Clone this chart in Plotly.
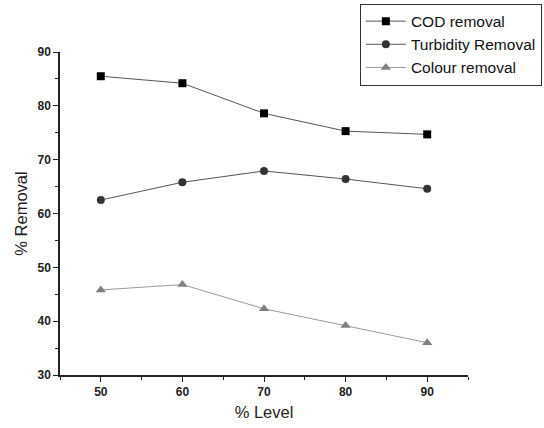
import plotly.graph_objects as go

levels = [50, 60, 70, 80, 90]
cod_removal = [85.5, 84.2, 78.6, 75.3, 74.7]
turbidity_removal = [62.5, 65.8, 67.9, 66.4, 64.6]
colour_removal = [45.8, 46.8, 42.3, 39.2, 36.0]

fig = go.Figure()
fig.add_trace(go.Scatter(x=levels, y=cod_removal, mode="lines+markers", name="COD removal",
                         line=dict(color="#555555", width=1),
                         marker=dict(symbol="square", size=8, color="#000000")))
fig.add_trace(go.Scatter(x=levels, y=turbidity_removal, mode="lines+markers", name="Turbidity Removal",
                         line=dict(color="#555555", width=1),
                         marker=dict(symbol="circle", size=8, color="#333333")))
fig.add_trace(go.Scatter(x=levels, y=colour_removal, mode="lines+markers", name="Colour removal",
                         line=dict(color="#9a9a9a", width=1),
                         marker=dict(symbol="triangle-up", size=9, color="#808080")))

fig.update_layout(
    width=544, height=428,
    margin=dict(l=60, r=76, t=52, b=53, autoexpand=False),
    paper_bgcolor="white", plot_bgcolor="white",
    font=dict(family="Liberation Sans, Arial", color="#222222"),
    showlegend=True,
    legend=dict(x=0.735, y=1.15, xanchor="left", yanchor="top",
                bordercolor="#333333", borderwidth=1, bgcolor="white",
                font=dict(family="Liberation Sans, Arial", size=15.5, color="#111111"),
                tracegroupgap=0, itemwidth=40),
    xaxis=dict(range=[45, 95], tickvals=[50, 60, 70, 80, 90],
               showline=True, linecolor="#222222", linewidth=1.5,
               ticks="outside", ticklen=5, tickcolor="#222222",
               minor=dict(ticks="outside", ticklen=3, dtick=5, tickcolor="#222222"),
               showgrid=False, zeroline=False,
               tickfont=dict(family="Liberation Sans, Arial", size=12, color="#222222", weight="bold"),
               title=dict(text="% Level", font=dict(size=16.5, color="#222222"), standoff=8)),
    yaxis=dict(range=[30, 90], tickvals=[30, 40, 50, 60, 70, 80, 90],
               showline=True, linecolor="#222222", linewidth=1.5,
               ticks="outside", ticklen=5, tickcolor="#222222",
               minor=dict(ticks="outside", ticklen=3, dtick=5, tickcolor="#222222"),
               showgrid=False, zeroline=False,
               tickfont=dict(family="Liberation Sans, Arial", size=12, color="#222222", weight="bold"),
               title=dict(text="% Removal", font=dict(size=16.5, color="#222222"), standoff=6)),
)

fig.write_html("out.html", config={"displayModeBar": False},
               post_script="document.body.style.margin='0';")
